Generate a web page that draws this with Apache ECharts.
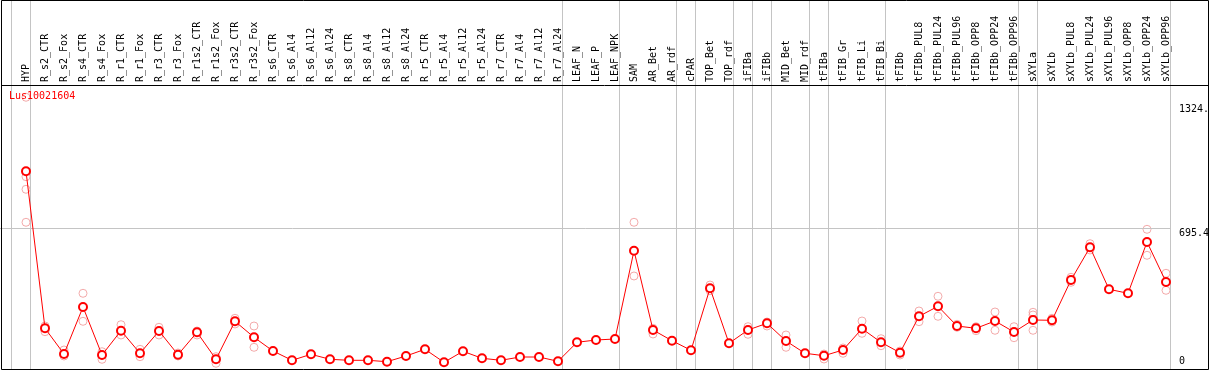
<!DOCTYPE html>
<html><head><meta charset="utf-8">
<script src="https://cdn.jsdelivr.net/npm/echarts@6/dist/echarts.min.js"></script>
<style>html,body{margin:0;padding:0;background:#fff}#c{width:1209px;height:370px}</style>
</head><body><div id="c"></div>
<script>
const title = 'Lus10021604';
const categories = ['HYP','R_s2_CTR','R_s2_Fox','R_s4_CTR','R_s4_Fox','R_r1_CTR','R_r1_Fox','R_r3_CTR','R_r3_Fox','R_r1s2_CTR','R_r1s2_Fox','R_r3s2_CTR','R_r3s2_Fox','R_s6_CTR','R_s6_Al4','R_s6_Al12','R_s6_Al24','R_s8_CTR','R_s8_Al4','R_s8_Al12','R_s8_Al24','R_r5_CTR','R_r5_Al4','R_r5_Al12','R_r5_Al24','R_r7_CTR','R_r7_Al4','R_r7_Al12','R_r7_Al24','LEAF_N','LEAF_P','LEAF_NPK','SAM','AR_Bet','AR_rdf','cPAR','TOP_Bet','TOP_rdf','iFIBa','iFIBb','MID_Bet','MID_rdf','tFIBa','tFIB_Gr','tFIB_Li','tFIB_Bi','tFIBb','tFIBb_PUL8','tFIBb_PUL24','tFIBb_PUL96','tFIBb_OPP8','tFIBb_OPP24','tFIBb_OPP96','sXYLa','sXYLb','sXYLb_PUL8','sXYLb_PUL24','sXYLb_PUL96','sXYLb_OPP8','sXYLb_OPP24','sXYLb_OPP96'];
const meanValues = [985.4,190.8,60.7,298.6,55.7,178.7,64.3,177.1,57.2,170.6,33.9,226.2,145.3,75.9,28.8,59.2,33.9,28.8,28.8,21.8,50.6,84.5,18.7,74.4,39.0,28.8,45.5,45.5,23.8,119.9,131.6,136.6,583.5,182.2,128.0,79.5,393.2,114.9,182.2,216.1,126.5,64.3,52.1,81.0,188.8,119.9,67.3,251.5,302.1,202.4,190.8,227.7,172.1,232.8,231.3,435.2,600.7,388.2,367.9,627.6,425.1];
const rep1 = [1360,202.4,81.0,367.9,72.4,209.0,84.5,195.9,65.8,177.1,47.1,241.4,202.4,null,null,null,null,null,null,null,null,null,null,null,null,null,null,null,null,null,null,null,727.3,190.8,null,null,409.9,null,198.9,222.7,156.9,null,60.7,64.3,227.7,138.2,75.9,278.4,352.8,211.0,198.9,273.3,198.9,271.8,241.4,448.9,619.0,null,null,691.8,469.2];
const rep2 = [958.0,173.6,50.6,226.2,33.9,156.9,47.1,156.9,50.6,156.9,13.7,212.6,94.6,null,null,null,null,null,null,null,null,null,null,null,null,null,null,null,null,null,null,null,455.5,162.0,null,null,381.1,null,160.4,202.4,94.6,null,35.4,91.1,165.5,102.7,55.7,224.2,251.5,195.9,178.7,180.7,143.2,258.1,222.7,423.6,587.1,null,null,560.3,383.1];
const rep3 = [894.3,null,null,null,null,null,null,null,null,null,null,null,null,null,null,null,null,null,null,null,null,null,null,null,null,null,null,null,null,null,null,null,null,null,null,null,null,null,null,null,null,null,null,null,null,null,null,null,null,null,null,null,null,180.7,null,null,null,null,null,null,null];
const rep4 = [727.3,null,null,null,null,null,null,null,null,null,null,null,null,null,null,null,null,null,null,null,null,null,null,null,null,null,null,null,null,null,null,null,null,null,null,null,null,null,null,null,null,null,null,null,null,null,null,null,null,null,null,null,null,null,null,null,null,null,null,null,null];
const groupEnds = [-1,0,28,31,34,35,37,38,39,41,42,45,52,53,60];
const yTickValues = [0, 695.4, 1324.6];
const yGridValue = 695.4;

const FONT = 'DejaVu Sans Mono';
const X_MIN = -26/19, X_MAX = (1172-26)/19;
const Y_MIN = -3/0.1976, Y_MAX = 366/0.1976;
const SEP_OFF = 0.24;

const chart = echarts.init(document.getElementById('c'), null, {renderer:'canvas'});
const repSeries = [rep1, rep2, rep3, rep4].map(arr => ({
  type:'scatter', xAxisIndex:0, yAxisIndex:0, z:3, silent:true,
  symbol:'circle', symbolSize:8,
  itemStyle:{color:'rgba(0,0,0,0)', borderColor:'#f09696', borderWidth:1},
  data: arr.map((v,i)=> v==null ? null : [i,v]).filter(d=>d)
}));
const sepLines = groupEnds.map(i => ({xAxis: i + SEP_OFF}));
sepLines.push([{coord:[X_MIN, yGridValue]},{coord:[groupEnds[groupEnds.length-1]+SEP_OFF, yGridValue]}]);

chart.setOption({
  animation:false,
  backgroundColor:'#fff',
  title:{text:title, left:9, top:91, padding:0, textStyle:{fontFamily:FONT, fontSize:10, fontWeight:'normal', color:'#ff0000'}},
  grid:{left:0, right:37, top:0, bottom:1, containLabel:false, outerBoundsMode:'none'},
  xAxis:[
    {type:'value', min:X_MIN, max:X_MAX, show:false},
    {type:'value', min:X_MIN, max:X_MAX, position:'top', offset:-85,
     axisLine:{show:false}, axisTick:{show:false}, splitLine:{show:false},
     axisLabel:{customValues: categories.map((_,i)=>i), formatter:v=>categories[Math.round(v)],
       rotate:90, margin:3, fontFamily:FONT, fontSize:10, color:'#000', hideOverlap:false}}
  ],
  yAxis:[
    {type:'value', min:Y_MIN, max:Y_MAX, position:'right',
     axisLine:{show:false}, axisTick:{show:false}, splitLine:{show:false},
     axisLabel:{customValues: yTickValues.slice(1), formatter:v=>String(v), verticalAlign:'top', align:'left', margin:7,
       fontFamily:FONT, fontSize:10, color:'#000'}},
    {type:'value', min:Y_MIN, max:Y_MAX, position:'right',
     axisLine:{show:false}, axisTick:{show:false}, splitLine:{show:false},
     axisLabel:{customValues: yTickValues.slice(0,1), formatter:v=>String(v), verticalAlign:'bottom', align:'left', margin:7,
       fontFamily:FONT, fontSize:10, color:'#000'}}
  ],
  series:[
    {type:'line', xAxisIndex:0, yAxisIndex:0, z:1, data:[], silent:true,
     markLine:{silent:true, symbol:['none','none'], label:{show:false}, animation:false,
       lineStyle:{color:'#c4c4c4', width:1, type:'solid'}, emphasis:{disabled:true}, data:sepLines}},
    ...repSeries,
    {type:'line', xAxisIndex:0, yAxisIndex:0, z:5, silent:true,
     symbol:'emptyCircle', symbolSize:8,
     itemStyle:{color:'#ff0000', borderWidth:1.5},
     lineStyle:{color:'#ff0000', width:1},
     data: meanValues.map((v,i)=>[i,v])}
  ],
  graphic:[
    {type:'rect', silent:true, z:100, shape:{x:1.5, y:0.5, width:1207, height:369}, style:{fill:null, stroke:'#000', lineWidth:1}},
    {type:'line', silent:true, z:100, shape:{x1:1, y1:85.5, x2:1208, y2:85.5}, style:{stroke:'#000', lineWidth:1}}
  ]
});
</script></body></html>
